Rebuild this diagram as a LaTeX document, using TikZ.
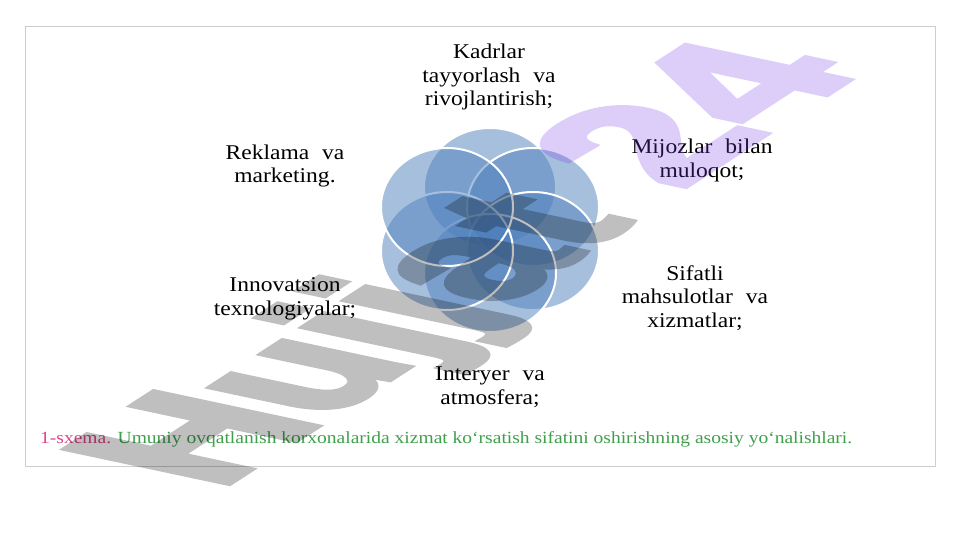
\documentclass[tikz,border=0pt]{standalone}
\usepackage{fontspec}
\usepackage{graphicx}
\setmainfont{Liberation Serif}
\newfontfamily\wmfont[FakeBold=4]{Liberation Sans Bold}
\usetikzlibrary{shapes.geometric}
\definecolor{circfill}{RGB}{79,129,189}
\definecolor{framegray}{RGB}{205,205,205}
\definecolor{capink}{RGB}{222,66,132}
\definecolor{capgreen}{RGB}{62,160,76}
\definecolor{wmpurple}{RGB}{119,59,235}
\newcommand{\wsp}{\hspace{0.55em}}
\begin{document}
\begin{tikzpicture}[x=1pt,y=-1pt,
  petal/.style={ellipse, fill=circfill, fill opacity=0.5, draw=white, line width=2pt,
    minimum width=132pt, minimum height=118pt, inner sep=0pt},
  lbl/.style={align=center, font=\fontsize{21}{23.5}\selectfont, xscale=1.12,
    transform shape, inner sep=0pt},
  wmtext/.style={anchor=base west, inner sep=0pt, transform shape,
    font=\wmfont\fontsize{100}{100}\selectfont}]
\fill[white] (0,0) rectangle (961,540);
\useasboundingbox (0,0) rectangle (961,540);
\draw[framegray, line width=1pt] (25,27) rectangle (935,466);
% petals
\node[petal] (pA) at (490,187) {};
\node[petal] (pC) at (533,207) {};
\node[petal] (pD) at (533,251) {};
\node[petal] (pF) at (490,273) {};
\node[petal] (pE) at (447,251) {};
\node[petal] (pB) at (447,207) {};
% labels
\node[lbl] (kadr) at (489,77) {Kadrlar\\tayyorlash\wsp va\\rivojlantirish;};
\node[lbl] (mij) at (702,160.5) {Mijozlar\wsp bilan\\muloqot;};
\node[lbl] (sif) at (695,298) {Sifatli\\mahsulotlar\wsp va\\xizmatlar;};
\node[lbl] (int) at (490,387) {Interyer\wsp va\\atmosfera;};
\node[lbl] (inn) at (285,299) {Innovatsion\\texnologiyalar;};
\node[lbl] (rek) at (285,166) {Reklama\wsp va\\marketing.};
% caption
\node[anchor=base west, inner sep=0pt] (cap) at (40,443) {\resizebox{812pt}{\height}{\fontsize{17}{17}\selectfont\textcolor{capink}{1-sxema.} \textcolor{capgreen}{Umuniy ovqatlanish korxonalarida xizmat ko‘rsatish sifatini oshirishning asosiy yo‘nalishlari.}}};
% watermark
\begin{scope}[transparency group, opacity=0.25]
\begin{scope}[cm={1.50,0.97,-2.35,0.50,(218,490)}]
\node[wmtext] (wmA) at (0,0) {\textcolor{black}{Hujjat}};
\end{scope}
\begin{scope}[cm={1.66,1.08,-2.35,0.50,(218,490)}]
\node[wmtext] (wmB) at (277.8,0) {\textcolor{wmpurple}{24}};
\end{scope}
\end{scope}
\end{tikzpicture}
\end{document}
